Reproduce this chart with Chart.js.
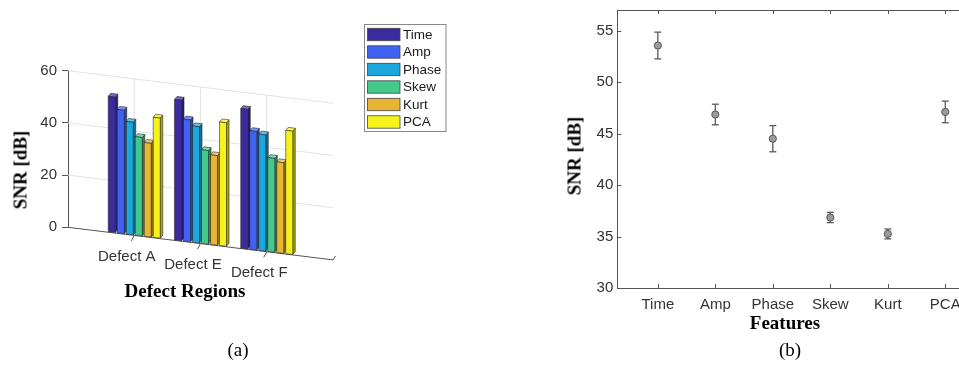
<!DOCTYPE html>
<html>
<head>
<meta charset="utf-8">
<script src="https://cdn.jsdelivr.net/npm/chart.js@4.4.1/dist/chart.umd.min.js"></script>
<style>
  html, body { margin: 0; padding: 0; background: #fff; overflow: hidden; }
  body { width: 959px; height: 368px; position: relative; overflow: hidden; }
  canvas { position: absolute; top: 0; }
  #chartA { left: 0; }
  #chartB { left: 540px; }
  .ttl {
    position: absolute;
    font-family: 'Liberation Serif', 'Times New Roman', serif;
    font-size: 19px;
    font-weight: bold;
    color: #000;
    white-space: nowrap;
    line-height: 1;
    transform: translate(-50%, -50%);
  }
  .ttl.rot { transform: translate(-50%, -50%) rotate(-90deg); }
  .cap {
    position: absolute;
    font-family: 'Liberation Serif', 'Times New Roman', serif;
    font-size: 19px;
    color: #000;
    line-height: 1;
    transform: translate(-50%, -50%);
  }
</style>
</head>
<body>
<canvas id="chartA" width="460" height="340"></canvas>
<canvas id="chartB" width="425" height="340"></canvas>

<div class="ttl rot" style="left:20px; top:170px;">SNR [dB]</div>
<div class="ttl" style="left:185px; top:290px;">Defect Regions</div>
<div class="ttl rot" style="left:574px; top:156px;">SNR [dB]</div>
<div class="ttl" style="left:785px; top:322px;">Features</div>
<div class="cap" style="left:238px; top:349px;">(a)</div>
<div class="cap" style="left:790px; top:349px;">(b)</div>

<script>
// Data
const regions = ['Defect A', 'Defect E', 'Defect F'];
const features = ['Time', 'Amp', 'Phase', 'Skew', 'Kurt', 'PCA'];

const snrTime  = [52.1, 54.0, 53.6];
const snrAmp   = [47.5, 46.9, 45.6];
const snrPhase = [43.3, 44.7, 44.7];
const snrSkew  = [37.9, 36.0, 36.1];
const snrKurt  = [36.1, 34.5, 34.9];
const snrPCA   = [46.2, 47.5, 47.4];
const yTicksA  = [0, 20, 40, 60];

const snrMean = [53.55, 46.85, 44.5, 36.85, 35.25, 47.1];
const snrErr  = [1.3, 1.0, 1.27, 0.5, 0.48, 1.05];
const yTicksB = [30, 35, 40, 45, 50, 55];

// Styles
const featureColors = ['#3a2c9f', '#3f62f2', '#1ba7dc', '#45c98b', '#e8b434', '#f6f31a'];
const axisColor = '#555';
const tickFont = { family: "'Liberation Sans', Arial, sans-serif", size: 15 };

// 3D look of panel (a): floor slope and bar depth
const view = { k: 0.123, dx: 2.5, dy: -3 };

function mix(hex, target, t) {
    const n = parseInt(hex.slice(1), 16);
    const m = c => Math.round(c + (target - c) * t);
    return `rgb(${m((n >> 16) & 255)},${m((n >> 8) & 255)},${m(n & 255)})`;
}

function shear(chart, x, y) {
    return [x, y + view.k * (x - chart.chartArea.left)];
}

function back(p) {
    return [p[0] + view.dx, p[1] + view.dy];
}

function poly(ctx, pts, fill, stroke) {
    ctx.beginPath();
    ctx.moveTo(pts[0][0], pts[0][1]);
    pts.slice(1).forEach(p => ctx.lineTo(p[0], p[1]));
    ctx.closePath();
    if (fill) { ctx.fillStyle = fill; ctx.fill(); }
    if (stroke) { ctx.strokeStyle = stroke; ctx.stroke(); }
}

function line(ctx, a, b) {
    ctx.beginPath();
    ctx.moveTo(a[0], a[1]);
    ctx.lineTo(b[0], b[1]);
    ctx.stroke();
}

// Panel (a) plugin: wall, 3D bars, floor labels, legend
const bar3d = {
    id: 'bar3d',
    beforeDatasetDraw() { return false; },
    beforeDatasetsDraw(chart) {
        const ctx = chart.ctx;
        const { left, right } = chart.chartArea;
        const xs = chart.scales.x, ys = chart.scales.y;
        const y0 = ys.getPixelForValue(0);
        const yTop = ys.getPixelForValue(yTicksA[yTicksA.length - 1]);
        ctx.save();
        ctx.lineWidth = 1;
        ctx.strokeStyle = '#e2e2e2';
        yTicksA.slice(1).forEach(v => {
            const y = ys.getPixelForValue(v);
            line(ctx, shear(chart, left, y), shear(chart, right, y));
        });
        regions.forEach((_, i) => {
            const x = xs.getPixelForValue(i + 1);
            line(ctx, shear(chart, x, y0), shear(chart, x, yTop));
        });
        ctx.strokeStyle = axisColor;
        line(ctx, shear(chart, left, y0), shear(chart, right, y0));
        const end = shear(chart, right, y0);
        line(ctx, end, [end[0] + view.dx, end[1] + view.dy * 1.3]);
        ctx.restore();
    },
    afterDatasetsDraw(chart) {
        const ctx = chart.ctx;
        const xs = chart.scales.x, ys = chart.scales.y;
        ctx.save();
        ctx.lineWidth = 0.7;
        const edge = 'rgba(30,30,30,0.8)';
        regions.forEach((_, g) => {
            chart.data.datasets.forEach((ds, d) => {
                const el = chart.getDatasetMeta(d).data[g];
                const { x, y, base, width } = el.getProps(['x', 'y', 'base', 'width'], true);
                const l = x - width / 2, r = x + width / 2;
                const c = ds.backgroundColor;
                const s = (px, py) => shear(chart, px, py);
                const side = [s(r, y), back(s(r, y)), back(s(r, base)), s(r, base)];
                const top = [s(l, y), s(r, y), back(s(r, y)), back(s(l, y))];
                const front = [s(l, y), s(r, y), s(r, base), s(l, base)];
                poly(ctx, side, mix(c, 0, 0.32), edge);
                poly(ctx, top, mix(c, 255, 0.3), edge);
                poly(ctx, front, c, edge);
            });
        });

        // floor ticks and region labels
        const y0 = ys.getPixelForValue(0);
        ctx.strokeStyle = axisColor;
        ctx.lineWidth = 1;
        ctx.fillStyle = '#333';
        ctx.font = `${tickFont.size}px ${tickFont.family}`;
        ctx.textAlign = 'center';
        ctx.textBaseline = 'middle';
        regions.forEach((name, i) => {
            const p = shear(chart, xs.getPixelForValue(i + 1), y0);
            line(ctx, p, [p[0] - 3, p[1] + 5.5]);
            ctx.fillText(name, p[0] - 7.5, p[1] + 21);
        });
        ctx.restore();
    },
    afterDraw(chart) {
        const ctx = chart.ctx;
        ctx.save();
        ctx.fillStyle = '#fff';
        ctx.fillRect(364.5, 24.5, 81.5, 107);
        ctx.strokeStyle = '#888';
        ctx.lineWidth = 1;
        ctx.strokeRect(364.5, 24.5, 81.5, 107);
        ctx.font = `13.5px ${tickFont.family}`;
        ctx.textAlign = 'left';
        ctx.textBaseline = 'middle';
        chart.data.datasets.forEach((ds, i) => {
            const cy = 34.5 + i * 17.5;
            ctx.fillStyle = ds.backgroundColor;
            ctx.fillRect(367.5, cy - 6.2, 32.5, 12.4);
            ctx.strokeStyle = '#444';
            ctx.lineWidth = 0.8;
            ctx.strokeRect(367.5, cy - 6.2, 32.5, 12.4);
            ctx.fillStyle = '#1a1a1a';
            ctx.fillText(ds.label, 403, cy + 0.5);
        });
        ctx.restore();
    }
};

const seriesA = [snrTime, snrAmp, snrPhase, snrSkew, snrKurt, snrPCA];

new Chart(document.getElementById('chartA'), {
    type: 'bar',
    data: {
        datasets: features.map((name, i) => ({
            label: name,
            data: seriesA[i].map((v, g) => ({ x: g + 1, y: v })),
            backgroundColor: featureColors[i],
            categoryPercentage: 0.815,
            barPercentage: 0.78
        }))
    },
    options: {
        responsive: false,
        animation: false,
        events: [],
        layout: { padding: { top: 70.7, right: 127, left: 0, bottom: 0 } },
        plugins: { legend: { display: false }, tooltip: { enabled: false } },
        scales: {
            x: {
                type: 'linear',
                offset: false,
                min: 0,
                max: regions.length + 1,
                ticks: { display: false, stepSize: 1 },
                grid: { display: false, drawTicks: false },
                border: { display: false },
                afterFit: s => { s.height = 112.7; s.paddingLeft = 0; s.paddingRight = 0; }
            },
            y: {
                min: 0,
                max: 60,
                afterBuildTicks: s => { s.ticks = yTicksA.map(v => ({ value: v })); },
                ticks: { font: tickFont, color: '#333', padding: 5 },
                grid: { drawOnChartArea: false, drawTicks: true, tickLength: 6, color: axisColor },
                border: { display: true, color: axisColor },
                afterFit: s => { s.width = 68; s.paddingTop = 0; s.paddingBottom = 0; }
            }
        }
    },
    plugins: [bar3d]
});

// Panel (b) plugin: error bars and the box with inner ticks
const boxB = {
    id: 'boxB',
    beforeDatasetsDraw(chart) {
        const ctx = chart.ctx;
        const xs = chart.scales.x, ys = chart.scales.y;
        ctx.save();
        ctx.strokeStyle = '#5a5a5a';
        ctx.lineWidth = 1.3;
        snrMean.forEach((m, i) => {
            const x = xs.getPixelForValue(i + 1);
            const yt = ys.getPixelForValue(m + snrErr[i]);
            const yb = ys.getPixelForValue(m - snrErr[i]);
            line(ctx, [x, yt], [x, yb]);
            line(ctx, [x - 3.5, yt], [x + 3.5, yt]);
            line(ctx, [x - 3.5, yb], [x + 3.5, yb]);
        });
        ctx.restore();
    },
    afterDraw(chart) {
        const ctx = chart.ctx;
        const { left, right, top, bottom } = chart.chartArea;
        const xs = chart.scales.x, ys = chart.scales.y;
        ctx.save();
        ctx.strokeStyle = axisColor;
        ctx.lineWidth = 1;
        line(ctx, [left, top + 0.5], [right, top + 0.5]);
        features.forEach((_, i) => {
            const x = Math.round(xs.getPixelForValue(i + 1)) + 0.5;
            line(ctx, [x, bottom], [x, bottom - 4]);
            line(ctx, [x, top], [x, top + 4]);
        });
        yTicksB.forEach(v => {
            const y = Math.round(ys.getPixelForValue(v)) + 0.5;
            line(ctx, [left, y], [left + 4, y]);
        });
        ctx.restore();
    }
};

new Chart(document.getElementById('chartB'), {
    type: 'scatter',
    data: {
        datasets: [{
            label: 'SNR',
            data: snrMean.map((v, i) => ({ x: i + 1, y: v })),
            pointRadius: 3.6,
            backgroundColor: '#9b9b9b',
            borderColor: '#555',
            borderWidth: 1
        }]
    },
    options: {
        responsive: false,
        animation: false,
        events: [],
        layout: { padding: { top: 10, right: 0, left: 0, bottom: 0 } },
        plugins: { legend: { display: false }, tooltip: { enabled: false } },
        scales: {
            x: {
                type: 'linear',
                min: 0.295,
                max: 6.256,
                afterBuildTicks: s => { s.ticks = features.map((_, i) => ({ value: i + 1 })); },
                ticks: { font: tickFont, color: '#333', padding: 8, maxRotation: 0, autoSkip: false,
                         callback: v => features[v - 1] },
                grid: { display: false, drawTicks: false },
                border: { display: true, color: axisColor },
                afterFit: s => { s.height = 52; s.paddingLeft = 0; s.paddingRight = 0; }
            },
            y: {
                min: 30,
                max: 57,
                afterBuildTicks: s => { s.ticks = yTicksB.map(v => ({ value: v })); },
                ticks: { font: tickFont, color: '#333', padding: 4 },
                grid: { display: false, drawTicks: false },
                border: { display: true, color: axisColor },
                afterFit: s => { s.width = 77.3; s.paddingTop = 0; s.paddingBottom = 0; }
            }
        }
    },
    plugins: [boxB]
});
</script>
</body>
</html>
